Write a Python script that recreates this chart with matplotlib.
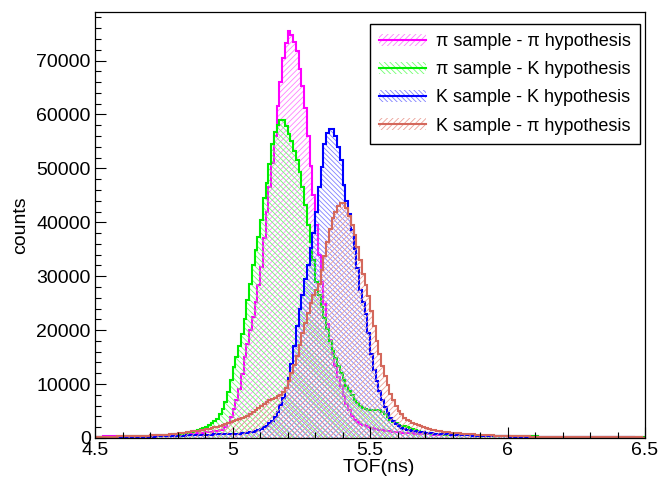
"""TOF distributions for pi / K samples under the pi and K mass hypotheses (ROOT-style hatched histograms)."""

import matplotlib

matplotlib.use("Agg")
import matplotlib.pyplot as plt
import numpy as np
from matplotlib.lines import Line2D
from matplotlib.patches import Patch
from matplotlib.ticker import MultipleLocator, FormatStrFormatter

# histogram binning: 200 bins of 0.01 ns between 4.5 and 6.5 ns
TOF_MIN = 4.5
TOF_MAX = 6.5
N_BINS = 200

# counts per bin (rows of 10 bins = 0.1 ns)
pi_sample_pi_hyp = [
    250, 262, 268, 281, 290, 297, 312, 318, 331, 340,
    352, 360, 373, 381, 392, 404, 418, 437, 449, 462,
    478, 497, 518, 536, 561, 579, 598, 622, 641, 663,
    682, 703, 721, 748, 779, 812, 848, 887, 932, 978,
    1030, 1090, 1160, 1240, 1330, 1450, 1550, 2000, 2800, 3900,
    5300, 7000, 9000, 11900, 15000, 17500, 20000, 22500, 25200, 28300,
    31800, 37000, 42000, 46500, 51000, 56000, 61500, 66000, 70500, 73200,
    75500, 74800, 73500, 71800, 68500, 65200, 61200, 56000, 50500, 45000,
    39500, 34000, 29000, 24800, 21200, 18200, 15600, 13400, 11300, 9600,
    7800, 6300, 5100, 4100, 3400, 2900, 2600, 2350, 2150, 2000,
    1850, 1750, 1650, 1550, 1450, 1380, 1300, 1230, 1170, 1110,
    1060, 1010, 960, 920, 880, 840, 800, 770, 740, 710,
    680, 660, 640, 620, 600, 590, 580, 570, 560, 550,
    540, 530, 520, 510, 500, 490, 480, 470, 460, 450,
    440, 430, 420, 410, 400, 390, 380, 370, 360, 350,
    340, 330, 320, 315, 310, 305, 300, 295, 290, 285,
    280, 275, 270, 265, 260, 255, 250, 245, 240, 235,
    230, 225, 220, 215, 210, 205, 200, 195, 190, 185,
    180, 178, 176, 174, 172, 170, 168, 166, 164, 162,
    160, 158, 156, 154, 152, 150, 148, 146, 144, 142,
]

pi_sample_k_hyp = [
    200, 210, 215, 225, 230, 240, 250, 255, 265, 275,
    285, 295, 305, 320, 330, 345, 360, 375, 390, 410,
    430, 450, 470, 495, 520, 550, 580, 615, 650, 690,
    740, 800, 870, 950, 1040, 1150, 1280, 1430, 1600, 1800,
    2050, 2350, 2700, 3100, 3600, 4500, 5400, 6700, 8500, 10800,
    13200, 15100, 17000, 19300, 22000, 25500, 28500, 32000, 34800, 37200,
    40500, 44500, 47300, 50800, 54500, 56700, 58000, 58900, 58900, 57800,
    56300, 55000, 53200, 51500, 49300, 46500, 43200, 39500, 36300, 33000,
    29000, 26500, 24200, 22300, 20300, 18000, 16200, 14800, 13300, 12000,
    10800, 9700, 8700, 7900, 7100, 6500, 6000, 5600, 5400, 5200,
    5100, 5100, 5200, 5250, 4900, 4400, 3900, 3400, 3000, 2700,
    2500, 2300, 2200, 2050, 1850, 1650, 1450, 1300, 1150, 1050,
    950, 880, 820, 780, 740, 700, 670, 640, 610, 590,
    570, 550, 530, 515, 500, 485, 470, 460, 450, 440,
    430, 420, 410, 400, 390, 380, 370, 365, 360, 350,
    340, 335, 330, 320, 315, 310, 300, 295, 290, 285,
    280, 270, 265, 260, 255, 250, 240, 235, 230, 225,
    220, 215, 210, 205, 200, 195, 190, 185, 180, 175,
    170, 165, 160, 158, 155, 150, 148, 145, 140, 138,
    135, 132, 130, 128, 125, 122, 120, 118, 115, 112,
]

k_sample_k_hyp = [
    100, 105, 110, 115, 120, 125, 130, 135, 140, 145,
    150, 160, 170, 180, 190, 200, 210, 220, 230, 240,
    250, 265, 280, 295, 310, 325, 340, 360, 380, 400,
    420, 440, 460, 480, 500, 520, 540, 560, 580, 600,
    615, 630, 645, 660, 675, 690, 700, 710, 720, 730,
    740, 770, 810, 860, 920, 990, 1080, 1180, 1300, 1450,
    1650, 1950, 2300, 2700, 3200, 3900, 4800, 6100, 7500, 9200,
    11200, 13800, 17000, 20800, 24000, 26500, 29500, 32000, 35300, 38000,
    42000, 46500, 50300, 54500, 56500, 57300, 57300, 56000, 54000, 51500,
    47000, 44000, 41500, 38500, 35000, 31500, 27500, 25200, 23000, 19500,
    15500, 12600, 10500, 8700, 7000, 5700, 4700, 3800, 3100, 2550,
    2150, 1850, 1650, 1500, 1400, 1300, 1220, 1150, 1080, 1020,
    960, 910, 860, 820, 780, 740, 710, 680, 650, 620,
    600, 580, 560, 540, 520, 500, 480, 460, 440, 420,
    400, 385, 370, 355, 340, 330, 320, 310, 300, 290,
    280, 270, 260, 250, 245, 240, 235, 230, 225, 220,
    215, 210, 205, 200, 195, 190, 185, 180, 175, 170,
    165, 160, 155, 150, 148, 145, 142, 140, 138, 135,
    132, 130, 128, 125, 122, 120, 118, 115, 112, 110,
    108, 105, 102, 100, 98, 95, 92, 90, 88, 85,
]

k_sample_pi_hyp = [
    200, 210, 220, 230, 240, 250, 260, 270, 280, 290,
    300, 310, 325, 340, 355, 370, 390, 410, 430, 450,
    470, 490, 510, 540, 570, 600, 640, 680, 720, 760,
    880, 940, 1000, 1070, 1140, 1220, 1300, 1380, 1460, 1540,
    1650, 1750, 1860, 1980, 2100, 2250, 2450, 2650, 2850, 3000,
    3150, 3300, 3450, 3650, 3900, 4150, 4450, 4750, 5100, 5500,
    5900, 6300, 6700, 7000, 7300, 7500, 7700, 8000, 8500, 9300,
    10500, 12000, 13600, 15200, 17200, 19400, 21300, 23200, 25000, 26500,
    27500, 28500, 31200, 33800, 36300, 38800, 40800, 42000, 43000, 43650,
    43500, 42600, 41200, 39500, 37700, 35500, 33000, 30500, 28300, 26300,
    23500, 20800, 18000, 15500, 13300, 11500, 9800, 8200, 7000, 5900,
    5000, 4400, 3800, 3400, 3100, 2800, 2550, 2350, 2150, 2000,
    1850, 1700, 1550, 1450, 1350, 1250, 1180, 1100, 1040, 1000,
    950, 900, 860, 820, 780, 740, 700, 670, 640, 610,
    580, 550, 520, 500, 480, 460, 440, 420, 400, 380,
    365, 350, 335, 320, 310, 300, 290, 280, 270, 260,
    250, 240, 232, 225, 218, 210, 205, 200, 195, 190,
    185, 180, 175, 170, 165, 160, 155, 150, 148, 145,
    142, 140, 137, 134, 131, 128, 125, 122, 120, 118,
    115, 112, 110, 108, 105, 102, 100, 98, 95, 92,
]

labels = [
    "π sample - π hypothesis",
    "π sample - K hypothesis",
    "K sample - K hypothesis",
    "K sample - π hypothesis",
]
line_colors = ["#ff00ff", "#00ee00", "#0000ff", "#d4685c"]
hatch_colors = ["#ff80ff", "#70ff70", "#8080ff", "#eba097"]
hatches = ["/" * 6, "\\" * 6, "\\" * 7, "/" * 6]

plt.rcParams["font.family"] = ["Liberation Sans", "DejaVu Sans"]
plt.rcParams["hatch.linewidth"] = 0.6


def main() -> None:
    series = [pi_sample_pi_hyp, pi_sample_k_hyp, k_sample_k_hyp, k_sample_pi_hyp]
    for values in series:
        assert len(values) == N_BINS
    edges = np.linspace(TOF_MIN, TOF_MAX, N_BINS + 1)

    fig = plt.figure(figsize=(6.59, 4.79), dpi=100)
    ax = fig.add_axes([0.1442, 0.0856, 0.8346, 0.8894])

    handles = []
    for values, label, lc, hc, hatch in zip(series, labels, line_colors, hatch_colors, hatches):
        # hatch fill drawn first, outline on top of it
        ax.stairs(values, edges, fill=True, facecolor="none", edgecolor=hc, hatch=hatch, linewidth=0)
        ax.stairs(values, edges, color=lc, linewidth=1.5)
        handles.append(
            (
                Patch(facecolor="none", edgecolor=hc, hatch=hatch, linewidth=0),
                Line2D([], [], color=lc, linewidth=1.5),
            )
        )

    ax.set_xlim(TOF_MIN, TOF_MAX)
    ax.set_ylim(0, 79000)
    ax.xaxis.set_major_locator(MultipleLocator(0.5))
    ax.xaxis.set_minor_locator(MultipleLocator(0.1))
    ax.xaxis.set_major_formatter(FormatStrFormatter("%g"))
    ax.yaxis.set_major_locator(MultipleLocator(10000))
    ax.yaxis.set_minor_locator(MultipleLocator(2000))
    ax.tick_params(which="both", direction="in", labelsize=14, top=False, right=False)
    ax.tick_params(which="major", length=8, width=0.8)
    ax.tick_params(which="minor", length=4.5, width=0.8)
    ax.tick_params(axis="x", pad=3)
    ax.tick_params(axis="y", pad=3)
    for spine in ax.spines.values():
        spine.set_linewidth(0.9)

    ax.set_xlabel("TOF(ns)", fontsize=14)
    ax.xaxis.set_label_coords(0.516, -0.05)
    ax.set_ylabel("counts", fontsize=14, labelpad=5)

    legend = ax.legend(
        handles,
        labels,
        loc="upper right",
        bbox_to_anchor=(0.991, 0.972),
        borderaxespad=0,
        fontsize=13,
        handlelength=2.6,
        handleheight=0.65,
        handletextpad=0.55,
        labelspacing=0.62,
        borderpad=0.5,
        fancybox=False,
        framealpha=1,
        edgecolor="black",
    )
    legend.get_frame().set_linewidth(1.0)

    fig.savefig("out.png", dpi=100)
    plt.close(fig)


if __name__ == "__main__":
    main()
